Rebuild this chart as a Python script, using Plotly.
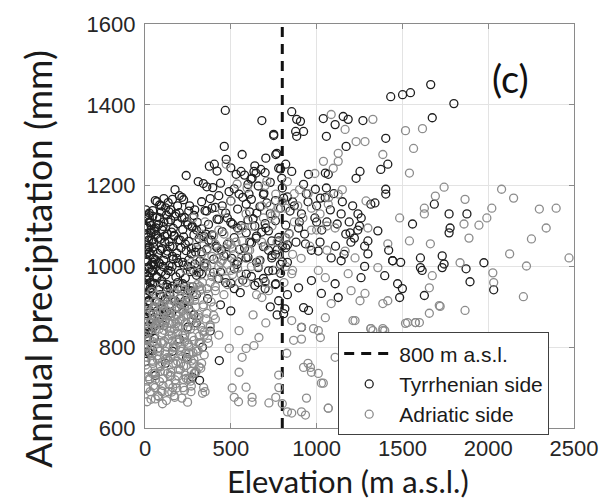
import plotly.graph_objects as go

# ---------------- data ----------------
# Tyrrhenian side (dark circles), grouped by region
tyr_x_a = [5,10,3,20,35,15,8,45,25,50,12,30,40,6,18,55,28,2,38,48,22,14,60,33,9,44,26,52,16,4]
tyr_y_a = [1125,1100,1080,1065,1090,1045,1030,1010,995,1020,975,960,945,930,915,900,890,870,860,850,840,820,1005,985,805,955,1110,1060,790,765]
tyr_x_b = [70,95,120,140,85,110,150,65,100,130,155,75,115,145,90,125,160,80,105,135,68,98,128,150,88,118,140,72,108,158]
tyr_y_b = [1160,1150,1145,1135,1120,1110,1115,1095,1090,1080,1085,1070,1060,1050,1040,1030,1025,1010,1000,990,975,965,955,945,930,920,905,890,880,1000]
tyr_x_c = [175,200,225,260,290,310,180,215,245,275,300,170,205,235,270,295,185,220,250,280,315,190,230,265,300,175,210,255,285,240]
tyr_y_c = [1190,1175,1165,1150,1140,1210,1130,1120,1110,1100,1090,1075,1065,1055,1045,1035,1020,1010,1000,990,985,960,950,940,930,915,905,895,880,1225]
tyr_x_d = [340,375,404,462,473,531,566,548,560,330,360,390,420,450,480,510,540,355,385,415,445,475,505,535,345,400,430,470,520,555,365,440,500,395,490]
tyr_y_d = [1205,1248,1253,1297,1265,1228,1277,1179,1235,1160,1137,1144,1117,1150,1120,1105,1095,1080,1065,1050,1040,1030,1020,1005,1000,985,970,960,945,935,920,905,890,1195,1185]
tyr_x_e = [590,606,624,635,647,675,681,704,710,750,762,779,797,808,820,855,618,652,693,739,589,647,704,739,820,762,779,600,640,680,720,760,800,830,620,660,700,745,790,830,580,610,650,690,730,770,815,750,768,468]
tyr_y_e = [1154,1179,1218,1235,1231,1240,1361,1268,1157,1324,1277,1243,1218,1169,1253,1235,1216,1132,1181,1063,1021,1070,1095,1021,1070,957,915,1115,1100,1085,1040,1030,1050,1010,975,960,945,990,1005,930,1045,1060,1010,970,900,880,895,1327,1280,1386]
tyr_x_f = [855,884,906,878,924,884,1039,1108,1155,1184,1057,1270,1172,1068,1051,1253,1230,953,924,993,1057,1022,912,1143,1241,1316,895,1195,779,820,935,1010,1085,1143,1299,1299,1259,1108,970,895,1028,1126,924,953,808,912,860,1000,1100,1200,1250,1280]
tyr_y_f = [1383,1364,1359,1334,1334,1322,1366,1351,1371,1364,1322,1361,1297,1228,1231,1235,1218,1228,1203,1191,1194,1169,1130,1130,1130,1154,1095,1083,1063,1046,1056,1038,1021,1014,1063,1031,972,957,965,947,933,923,898,891,883,849,1160,1110,1180,1060,1100,1000]
tyr_x_g = [1340,1374,1415,1403,1403,1403,1432,1501,1547,1665,1800,1674,1686,1876,1772,1778,1772,1732,1743,1732,1871,1975,2032,1894,1605,1615,1628,1443,1605,1490,1484,1500,1472,1357,1397,1443,1559,1420]
tyr_y_g = [1157,1240,1253,1317,1191,1179,1420,1425,1430,1450,1403,1368,1154,1130,1130,1095,1083,1026,1006,997,994,1009,942,962,1021,990,928,1014,997,1010,923,945,957,1088,977,1014,1105,1040]
tyr_x_h = [433,277,290,318,335,242,200,160,380,120,60,250,300]
tyr_y_h = [767,726,735,718,800,775,820,790,840,760,730,850,860]
# dense lowland core of the Tyrrhenian cloud
tyr_x_i = [60,85,110,135,160,190,215,
           20,45,70,95,125,150,175,200,230,255,285,
           10,30,55,80,105,135,165,190,220,250,275,305,330,
           15,40,65,90,115,140,170,195,225,255,285,315,345,370,
           5,25,50,75,100,130,160,185,210,240,270,300,330,360,
           10,35,60,85,110,140,165,195,225,255,290,320,350,
           0,20,45,70,95,120,150,180,205,235,265,300,330,
           8,30,55,80,105,130,160,190,220,250,280,
           3,25,45,70,95,120,145,175,205,235,
           10,30,50,75,100,125,155,185,
           5,20,40,60,85,110,
           2,15,35,55,
           5,25,45]
tyr_y_i = [1163,1152,1168,1158,1166,1150,1171,
           1128,1138,1122,1135,1127,1140,1124,1133,1121,1137,1126,
           1095,1108,1092,1104,1099,1110,1094,1106,1091,1103,1097,1109,1093,
           1072,1064,1079,1067,1075,1061,1077,1066,1073,1062,1078,1069,1074,1065,
           1041,1035,1048,1032,1044,1038,1049,1033,1046,1039,1031,1047,1036,1043,
           1012,1004,1017,1007,1015,1002,1018,1009,1003,1016,1006,1013,1008,
           984,976,989,972,986,979,988,974,983,971,987,978,981,
           953,945,958,942,956,948,951,944,957,941,950,
           922,915,928,912,925,918,929,913,921,916,
           893,885,898,882,895,888,884,897,
           864,852,869,857,861,854,
           833,826,838,822,
           797,786,792]
# black band along the lowest elevations
tyr_x_m = [5,15,25,35,45,55,5,15,25,35,45,10,20,30,40,50,8,18,28]
tyr_y_m = [1140,1118,1132,1101,1124,1087,1058,1072,1049,1083,1038,1016,998,1027,991,1004,967,951,938]
# middle elevations (350-850 m)
tyr_x_j = [420,500,580,640,700,790,
           360,440,520,600,660,730,800,
           380,430,500,570,620,690,760,830,
           350,410,470,540,610,670,730,790,845,
           370,430,500,560,630,700,760,820,
           390,450,520,590,650,720,780,840,
           420,480,550,620,690,770,830,
           400,460,540,600,670,740,800,
           440,520,590,660,720,790,
           500,570,640,700,760]
tyr_y_j = [1236,1244,1226,1249,1232,1241,
           1197,1206,1192,1203,1199,1208,1194,
           1168,1175,1162,1171,1166,1178,1163,1172,
           1138,1146,1132,1142,1135,1148,1131,1144,1137,
           1104,1116,1109,1101,1118,1106,1113,1102,
           1078,1086,1071,1083,1075,1088,1072,1081,
           1046,1055,1042,1058,1049,1041,1053,
           1018,1026,1012,1023,1015,1027,1011,
           986,994,981,997,989,983,
           958,966,953,962,955]
# cluster at 850-1300 m
tyr_x_k = [870,900,950,990,1030,1080,1120,1170,1210,1260,880,930,970,1020,1060,1110,1160,1220,1280,940,1000,1050,1150,1190,1240]
tyr_y_k = [1150,1110,1160,1120,1090,1140,1105,1080,1150,1120,1060,1080,1040,1060,1110,1050,1030,1070,1050,1180,1150,1170,1160,1110,1090]

# Adriatic side (grey circles), grouped by region
adr_x_a = [5,15,30,45,60,75,90,105,120,135,150,165,180,195,210,225,240,255,270,285,300,315,330,345]
adr_y_a = [700,745,690,760,720,680,740,705,770,690,730,760,710,745,780,720,755,800,740,770,790,810,760,830]
adr_x_b = [10,25,40,55,70,85,100,115,130,145,160,175,190,205,220,235,250,265,280,295,310,325,340,355]
adr_y_b = [800,820,780,850,810,790,835,860,800,840,815,870,850,800,830,860,880,845,870,900,880,850,900,870]
adr_x_c = [8,20,35,50,65,80,95,110,125,140,155,170,185,200,215,230,245,260,275,290,305,320,335]
adr_y_c = [880,905,860,900,930,875,905,890,925,880,905,935,900,920,945,900,930,915,950,925,955,940,960]
adr_x_d = [12,28,42,58,72,88,102,118,132,148,162,178,192,208,222,238,252,268,282,298]
adr_y_d = [665,720,735,700,770,755,660,790,735,775,700,800,835,760,700,785,720,690,760,740]
adr_x_e = [18,38,52,68,82,98,112,128,142,158,172,188,202,218,232,248,262]
adr_y_e = [840,860,825,880,845,865,815,850,860,830,845,880,865,890,830,810,950]
adr_x_f = [240,270,300,330,360,390,420,450,480,510,540,380,410,440,470,500,360,400,430,460,490,520,300,330,350,280,560,590]
adr_y_f = [990,1010,985,1030,1000,975,1020,990,1005,980,995,960,950,1040,970,1055,945,1075,1090,930,1060,1030,1060,1080,1110,1120,1020,960]
adr_x_g = [537,473,450,502,589,624,710,762,779,595,739,664,548,566,650,700,760,820,840,870,610,680,730,800,860,890,630,690]
adr_y_g = [1204,1253,1137,1162,1130,1100,1211,1179,1144,1194,1125,1014,1090,1063,930,960,990,1000,1080,1110,1040,1060,1150,1160,1030,1150,880,1120]
adr_x_h = [248,335,350,342,508,589,624,520,545,624,722,762,779,548,566,589,635,664,548,491,156,173,100,60,704,681,855,912,826,866,912,982,1022,1010,924,970,1028,1068,855,912,941,935,964,950,780,800,830]
adr_y_h = [664,686,690,700,699,701,676,676,665,664,662,676,731,738,775,797,804,824,841,797,689,676,690,672,860,923,866,849,785,817,820,846,824,735,750,738,711,649,637,640,674,632,750,760,700,660,640]
adr_x_i = [1085,1166,1126,1126,1097,1126,1328,1230,1282,1386,1518,1565,1617,1541,1288,1628,820,970,1068,1108,1299,1415,1541,1484,1628,1166,1224,1184,1051,855,1201,1282,1253,1085,1051,1357,1415,1224,1316,1386,1518,1576,1060,1000,950,1150]
adr_y_i = [1376,1339,1280,1260,1243,1179,1364,1309,1309,1277,1336,1292,1341,1231,1162,1144,1144,1144,1154,1095,1095,1056,1063,1120,1130,1038,1021,982,972,982,940,933,915,908,873,997,915,866,846,846,859,861,1100,1090,1180,1190]
adr_x_j = [1743,1692,1865,2078,2148,2021,2298,2396,2338,2252,2125,2223,2471,2205,1859,1946,1992,1888,1663,1836,2027,2032,1674,1657,1720,1657,1865,1599,1715,1530,1576,1397,1316,1386,1212,1108,1010,1039,1068,1328,1386]
adr_y_j = [1196,1174,1166,1191,1169,1144,1142,1144,1095,1068,1031,1001,1021,925,1105,1102,1120,1070,1056,1009,984,960,977,947,901,884,891,861,903,861,861,841,846,841,866,775,841,711,649,841,908]
# dense lowland core of the Adriatic cloud
adr_x_k = [40,90,140,190,230,280,330,370,
           15,60,105,150,200,245,290,340,385,
           5,45,90,135,180,225,270,315,360,400,
           20,65,110,155,200,245,290,335,380,
           10,50,95,140,185,230,275,320,365,
           30,75,120,165,210,255,300,345,
           5,45,90,135,180,225,270,315,
           20,60,105,150,195,240,285,
           10,50,95,140,185,230,270,
           35,80,125,170,215]
adr_y_k = [938,946,932,949,941,935,944,931,
           906,914,902,917,909,903,916,905,912,
           878,886,872,889,881,875,887,873,884,879,
           847,856,842,858,851,844,853,841,855,
           816,825,812,828,819,813,826,811,822,
           787,796,783,798,790,784,795,781,
           756,765,752,768,759,753,766,751,
           727,736,722,738,729,723,735,
           697,705,692,708,699,693,704,
           671,678,668,680,674]
adr_x_m = [25,55,85,115,145,175,205,235,265,295,325,
           40,70,100,130,160,190,220,250,280,310,
           15,45,75,105,135,165,195,225,255,285,315,345,
           30,60,90,120,150,180,210,240,270,300,
           50,80,110,140,170,200,230,260,
           380,410,430,400,370]
adr_y_m = [722,735,715,741,728,719,744,731,716,738,748,
           768,779,762,774,783,765,777,770,786,791,
           803,814,798,809,820,801,812,822,806,817,827,838,
           861,872,855,866,877,858,869,880,864,873,
           897,908,891,903,914,895,906,919,
           850,870,830,900,810]
# grey patch at 300-650 m and mixed zone 650-1100 m
adr_x_l = [320,350,380,410,440,470,500,530,560,600,340,390,430,480,520,570,620,360,410,460,510,550,300,450,420,
           660,700,740,780,820,870,920,970,1020,1070,680,720,770,810,860,910,960,1010,1060,700,760,830,900,990,1040]
adr_y_l = [950,1005,985,940,1010,1045,990,1060,980,1040,1070,1025,1000,955,1010,1095,1000,1040,1055,1080,1045,960,1015,1015,970,
           1000,1050,1100,1030,1070,1180,1120,1090,1130,1170,1150,940,1060,960,990,1020,1050,990,1040,1200,1130,1210,1190,1230,1260]

threshold_elev = 800
x_ticks = [0, 500, 1000, 1500, 2000, 2500]
y_ticks = [600, 800, 1000, 1200, 1400, 1600]

tyr_x = tyr_x_a + tyr_x_b + tyr_x_c + tyr_x_d + tyr_x_e + tyr_x_f + tyr_x_g + tyr_x_h + tyr_x_i + tyr_x_m + tyr_x_j + tyr_x_k
tyr_y = tyr_y_a + tyr_y_b + tyr_y_c + tyr_y_d + tyr_y_e + tyr_y_f + tyr_y_g + tyr_y_h + tyr_y_i + tyr_y_m + tyr_y_j + tyr_y_k
adr_x = adr_x_a + adr_x_b + adr_x_c + adr_x_d + adr_x_e + adr_x_f + adr_x_g + adr_x_h + adr_x_i + adr_x_j + adr_x_k + adr_x_m + adr_x_l
adr_y = adr_y_a + adr_y_b + adr_y_c + adr_y_d + adr_y_e + adr_y_f + adr_y_g + adr_y_h + adr_y_i + adr_y_j + adr_y_k + adr_y_m + adr_y_l

TICKFONT = dict(family="Liberation Sans, Arial, sans-serif", size=22, color="#262626")

fig = go.Figure()
fig.add_trace(go.Scatter(
    x=[threshold_elev, threshold_elev], y=[y_ticks[0], y_ticks[-1]],
    mode="lines", name="800 m a.s.l.",
    line=dict(color="#111111", width=3, dash="10px,7px")))
fig.add_trace(go.Scatter(
    x=tyr_x, y=tyr_y, mode="markers", name="Tyrrhenian side",
    marker=dict(symbol="circle-open", size=8, color="#1e1e1e", line=dict(width=1.3))))
fig.add_trace(go.Scatter(
    x=adr_x, y=adr_y, mode="markers", name="Adriatic side",
    marker=dict(symbol="circle-open", size=8, color="#8c8c8c", line=dict(width=1.3))))

axis_common = dict(
    showgrid=True, gridcolor="#e3e3e3", gridwidth=1,
    showline=True, linecolor="#8a8a8a", linewidth=1.3, mirror="allticks",
    ticks="inside", ticklen=5, tickcolor="#8a8a8a", tickwidth=1,
    zeroline=False, tickfont=TICKFONT)

fig.update_xaxes(range=[0, 2500], tickvals=x_ticks, ticklabelstandoff=0, **axis_common)
fig.update_yaxes(range=[600, 1600], tickvals=y_ticks, ticklabelstandoff=4, **axis_common)

fig.update_layout(
    width=610, height=503,
    margin=dict(l=145, r=32, t=22, b=75),
    paper_bgcolor="white", plot_bgcolor="white",
    showlegend=True,
    legend=dict(x=(340 - 145) / 433, y=(428 - 332) / 406, xanchor="left", yanchor="top",
                bgcolor="white", bordercolor="#404040", borderwidth=1,
                font=dict(family="Liberation Sans, Arial, sans-serif", size=21, color="#1a1a1a"),
                tracegroupgap=0, itemwidth=50),
    annotations=[
        dict(text="Elevation (m a.s.l.)", xref="paper", yref="paper",
             x=(350 - 145) / 433, y=(428 - 502) / 406,
             xanchor="center", yanchor="bottom", showarrow=False,
             font=dict(family="Lato, Open Sans, sans-serif", size=31, color="#1a1a1a")),
        dict(text="Annual precipitation (mm)", xref="paper", yref="paper",
             x=(37 - 145) / 433, y=(428 - 258) / 406,
             xanchor="center", yanchor="middle", showarrow=False, textangle=-90,
             font=dict(family="Lato, Open Sans, sans-serif", size=37, color="#1a1a1a")),
        dict(text="(c)", xref="x", yref="y", x=2131, y=1467,
             xanchor="center", yanchor="middle", showarrow=False,
             font=dict(family="Lato, Open Sans, sans-serif", size=38, color="#111111")),
    ],
)

fig.write_html("out.html")
